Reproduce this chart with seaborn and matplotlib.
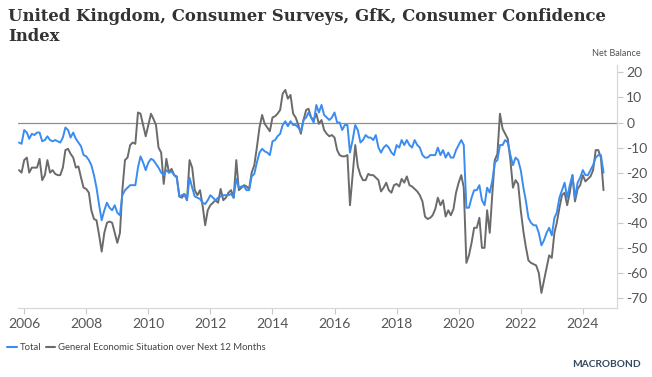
import matplotlib
matplotlib.use("Agg")
import matplotlib.pyplot as plt
from matplotlib.lines import Line2D
import numpy as np
import pandas as pd
import seaborn as sns

# monthly values, Nov 2005 .. Sep 2024
total_2005 = [-8, -8.5]
total_2006 = [-3, -4, -6.5, -4.5, -5, -4, -4, -7.5, -7, -5.5, -7, -7.5]
total_2007 = [-7, -7.5, -8, -6, -2, -3, -6, -4, -6.5, -8, -9.5, -13]
total_2008 = [-13.5, -15, -17, -21, -26, -33, -39, -35, -32, -34, -35, -33]
total_2009 = [-36, -37, -29, -27, -26, -25, -25, -25, -18, -13.5, -16, -19]
total_2010 = [-16, -14.5, -15, -16.5, -18, -20, -21, -19, -20, -19.5, -21, -22]
total_2011 = [-29.5, -29, -28.5, -31, -22, -26, -29.5, -30, -30.5, -32, -32.5, -31]
total_2012 = [-29, -30, -31, -30, -29.5, -29, -29, -29, -28.5, -30, -22.5, -26]
total_2013 = [-25.5, -25.5, -27, -27, -21.5, -20.5, -16, -12, -10.5, -11.5, -12, -13]
total_2014 = [-7.5, -7, -5.5, -4.5, -1, 0.5, -1.5, 0.5, -1, -1, -2, -3.5]
total_2015 = [1, 2, 4, 2, 0, 7, 4, 7, 3, 2, 1, 2]
total_2016 = [4, 0, 0, -3, -1, -1, -12, -7, -1, -3, -8, -7]
total_2017 = [-5, -6, -6, -7, -5, -10, -12, -10, -9, -10, -12, -13]
total_2018 = [-9, -10, -7, -9, -7, -9, -10, -7, -9, -10, -13, -14]
total_2019 = [-14, -13, -13, -13, -10, -13, -11, -14, -12, -14, -14, -11]
total_2020 = [-9, -7, -9, -34, -34, -30, -27, -27, -25, -31, -33, -26]
total_2021 = [-28, -23, -16, -15, -9, -9, -7, -8, -13, -17, -14, -15]
total_2022 = [-19, -26, -31, -38, -40, -41, -41, -44, -49, -47, -44, -42]
total_2023 = [-45, -38, -36, -30, -27, -24, -30, -25, -21, -30, -24, -22]
total_2024 = [-19, -21, -21, -19, -17, -14, -13, -13, -20]

general_2005 = [-19, -20]
general_2006 = [-15, -14, -20, -18, -18, -18, -14.5, -23, -21, -15, -20, -19]
general_2007 = [-20.5, -21, -21, -18, -11, -10.5, -12.5, -14, -18, -17.5, -22, -26]
general_2008 = [-26.5, -28, -35, -38.5, -39, -45, -51.5, -44, -40, -39.5, -40, -44]
general_2009 = [-48, -44, -27, -15, -14, -9, -8, -8.5, 4, 3.5, -1, -5.5]
general_2010 = [-1, 3.5, 1.5, -1, -10, -12, -24.5, -14.5, -20, -18.5, -21, -21.5]
general_2011 = [-29.5, -30, -28.5, -31, -15, -18, -27, -29, -27, -33, -41, -35]
general_2012 = [-33, -32, -31, -32, -26.5, -31, -30, -28, -27, -30, -15, -27]
general_2013 = [-26, -25, -25.5, -26.5, -20, -17, -10, -2, 3, -0.5, -2, -3.5]
general_2014 = [2, 2.5, 3.5, 5, 11.5, 13, 9.5, 11, 3.5, 2, -1, -4.5]
general_2015 = [1, 5, 5.5, 2, 1, 3.5, -0.5, 1, -3, -4.5, -5.5, -5]
general_2016 = [-6, -11, -13, -13.5, -13.5, -13, -33, -21, -9, -17.5, -21, -23]
general_2017 = [-23, -20.5, -21, -21, -22, -23, -27.5, -26, -24, -27, -28, -25]
general_2018 = [-24.5, -25.5, -22.5, -24, -21.5, -25, -25.5, -26.5, -27.5, -29, -31.5, -37.5]
general_2019 = [-38.5, -38, -37, -34.5, -30, -33, -31, -37.5, -35, -37, -34.5, -28]
general_2020 = [-24, -21, -26, -56, -53, -48, -42, -42, -38, -50, -50, -35]
general_2021 = [-44, -28, -15, -12.5, 3.5, -2.5, -4.5, -6.5, -15, -26, -23, -24.5]
general_2022 = [-35, -43.5, -49.5, -55, -56, -56.5, -57, -60, -68, -63, -58, -53]
general_2023 = [-54, -44, -40, -34, -29, -28, -33, -28, -21, -31.5, -26.5, -25]
general_2024 = [-21, -23.5, -22.5, -21.5, -19, -11, -11, -14, -27]

total = (total_2005 + total_2006 + total_2007 + total_2008 + total_2009 + total_2010
         + total_2011 + total_2012 + total_2013 + total_2014 + total_2015 + total_2016
         + total_2017 + total_2018 + total_2019 + total_2020 + total_2021 + total_2022
         + total_2023 + total_2024)
general = (general_2005 + general_2006 + general_2007 + general_2008 + general_2009
           + general_2010 + general_2011 + general_2012 + general_2013 + general_2014
           + general_2015 + general_2016 + general_2017 + general_2018 + general_2019
           + general_2020 + general_2021 + general_2022 + general_2023 + general_2024)

dates = pd.date_range("2005-11-01", "2024-09-01", freq="MS")

label_total = "Total"
label_general = "General Economic Situation over Next 12 Months"
colors = {label_total: "#3b8cf0", label_general: "#6b6b6b"}

df = pd.DataFrame({"date": dates, label_total: total, label_general: general})
long_df = df.melt(id_vars="date", var_name="series", value_name="value")

sns.set_theme(style="white")
plt.rcParams["font.family"] = ["Lato", "DejaVu Sans"]

fig = plt.figure(figsize=(6.52, 3.77), dpi=100)
ax = fig.add_axes([0.0276, 0.183, 0.918, 0.645])

ax.axhline(0, color="#8f8f8f", lw=0.9, zorder=1)
sns.lineplot(data=long_df, x="date", y="value", hue="series",
             hue_order=[label_general, label_total], palette=colors,
             linewidth=1.4, ax=ax, legend=False, zorder=2)

ax.set_xlim(pd.Timestamp("2005-10-20"), pd.Timestamp("2025-02-01"))
ax.set_ylim(-74, 23)
ax.set_xlabel("")
ax.set_ylabel("")

years = list(range(2006, 2025, 2))
ax.set_xticks([pd.Timestamp(f"{y}-01-01") for y in years])
ax.set_xticklabels([str(y) for y in years])
ax.yaxis.tick_right()
ax.set_yticks(list(range(-70, 21, 10)))
ax.set_yticklabels([str(v) for v in range(-70, 21, 10)])

for side in ["top", "left"]:
    ax.spines[side].set_visible(False)
for side in ["bottom", "right"]:
    ax.spines[side].set_color("#d8d8d8")
    ax.spines[side].set_linewidth(0.9)

ax.tick_params(axis="x", bottom=True, length=4, width=0.8, color="#c8c8c8",
               labelsize=10, labelcolor="#555555", pad=3)
ax.tick_params(axis="y", right=True, left=False, length=4, width=0.8, color="#c8c8c8",
               labelsize=10, labelcolor="#555555", pad=3)

fig.text(0.012, 0.978, "United Kingdom, Consumer Surveys, GfK, Consumer Confidence\nIndex",
         ha="left", va="top", fontfamily="DejaVu Serif", fontweight="bold",
         fontsize=11.9, color="#333333", linespacing=1.22)
fig.text(0.982, 0.845, "Net Balance", ha="right", va="bottom", fontsize=6.6, color="#555555")

handles = [Line2D([0], [0], color=colors[label_total], lw=1.5),
           Line2D([0], [0], color=colors[label_general], lw=1.5)]
fig.legend(handles, [label_total, label_general], loc="center left",
           bbox_to_anchor=(-0.002, 0.078), ncol=2, frameon=False, fontsize=6.8,
           handlelength=1.0, handletextpad=0.3, columnspacing=0.5,
           labelcolor="#444444")

fig.text(0.982, 0.032, "MACROBOND", ha="right", va="center", fontsize=7.3,
         fontweight="bold", color="#34495e")

fig.savefig("out.png", dpi=100)
